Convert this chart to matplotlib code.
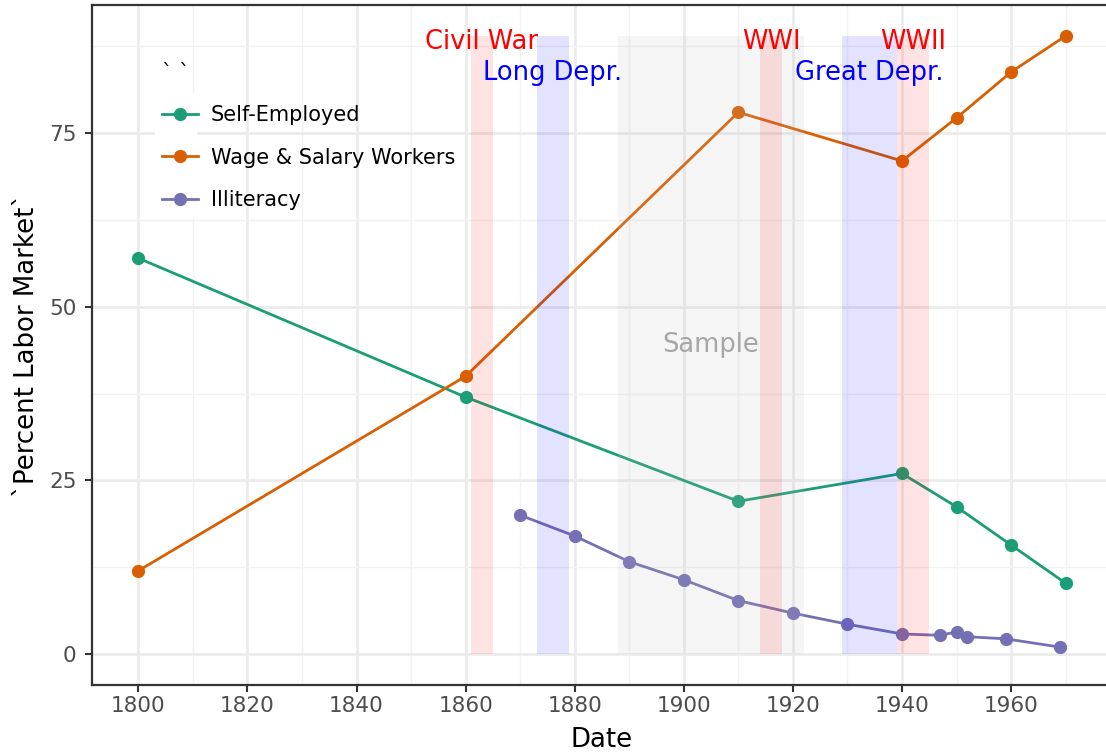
import matplotlib
matplotlib.use("Agg")
import matplotlib.pyplot as plt
from matplotlib.patches import Rectangle

# ---- data ----
se_years = [1800, 1860, 1910, 1940, 1950, 1960, 1970]
self_employed = [57, 37, 22, 26, 21.2, 15.7, 10.2]
wage_years = [1800, 1860, 1910, 1940, 1950, 1960, 1970]
wage_salary = [12, 40, 78, 71, 77.2, 83.8, 89]
ill_years = [1870, 1880, 1890, 1900, 1910, 1920, 1930, 1940, 1947, 1950, 1952, 1959, 1969]
illiteracy = [20.0, 17.0, 13.3, 10.7, 7.7, 5.9, 4.3, 2.9, 2.7, 3.2, 2.5, 2.2, 1.0]

war_names = ["Civil War", "WWI", "WWII"]
war_start = [1861, 1914, 1939]
war_end = [1865, 1918, 1945]
dep_names = ["Long Depr.", "Great Depr."]
dep_start = [1873, 1929]
dep_end = [1879, 1939]
sample_start, sample_end = 1888, 1922
rect_top = 89
war_label_y = 88.1
dep_label_y = 83.6

series_labels = ["Self-Employed", "Wage & Salary Workers", "Illiteracy"]
colors = ["#1B9E77", "#D95F02", "#7570B3"]
x_ticks = [1800, 1820, 1840, 1860, 1880, 1900, 1920, 1940, 1960]
y_ticks = [0, 25, 50, 75]

W, H = 1106, 753
fig = plt.figure(figsize=(W / 100, H / 100), dpi=100)
ax = fig.add_axes([92 / W, (753 - 685) / H, (1112 - 92) / W, 680 / H])

ax.set_xlim(1791.5, 1978.5)
ax.set_ylim(-4.45, 93.45)

# grid
ax.set_axisbelow(True)
ax.set_xticks(x_ticks)
ax.set_xticks([t + 10 for t in x_ticks], minor=True)
ax.set_yticks(y_ticks)
ax.set_yticks([12.5, 37.5, 62.5, 87.5], minor=True)
ax.grid(which="major", color="#EBEBEB", lw=1.9)
ax.grid(which="minor", color="#F2F2F2", lw=1.0)
ax.tick_params(which="minor", length=0)
ax.tick_params(which="major", length=5, width=1.5, color="#333333",
               labelsize=15.5, labelcolor="#4D4D4D")
ax.tick_params(axis="x", pad=3)
ax.tick_params(axis="y", pad=6)

for s in ["left", "bottom", "top"]:
    ax.spines[s].set_color("#333333")
    ax.spines[s].set_linewidth(1.6)
ax.spines["right"].set_visible(False)

# legend key backgrounds (white, covering grid)
ax.add_patch(Rectangle((155 / W, (753 - 218) / H), 42 / W, 125 / H,
                       transform=fig.transFigure, facecolor="white",
                       edgecolor="none", zorder=0.8))

# series
ax.plot(se_years, self_employed, "-o", color=colors[0], lw=2.0, ms=8.5, label=series_labels[0], zorder=3)
ax.plot(wage_years, wage_salary, "-o", color=colors[1], lw=2.0, ms=8.5, label=series_labels[1], zorder=3)
ax.plot(ill_years, illiteracy, "-o", color=colors[2], lw=2.0, ms=8.5, label=series_labels[2], zorder=3)

# shaded periods (drawn on top, transparent)
ax.add_patch(Rectangle((sample_start, 0), sample_end - sample_start, rect_top,
                       facecolor="#BEBEBE", alpha=0.15, edgecolor="none", zorder=4))
for s, e in zip(war_start, war_end):
    ax.add_patch(Rectangle((s, 0), e - s, rect_top, facecolor="red", alpha=0.11,
                           edgecolor="none", zorder=4))
for s, e in zip(dep_start, dep_end):
    ax.add_patch(Rectangle((s, 0), e - s, rect_top, facecolor="blue", alpha=0.11,
                           edgecolor="none", zorder=4))

for n, s, e in zip(war_names, war_start, war_end):
    ax.text((s + e) / 2, war_label_y, n, color="red", fontsize=18.5,
            ha="center", va="center", zorder=5)
for n, s, e in zip(dep_names, dep_start, dep_end):
    ax.text((s + e) / 2, dep_label_y, n, color="blue", fontsize=18.5,
            ha="center", va="center", zorder=5)
ax.text((sample_start + sample_end) / 2, rect_top / 2, "Sample", color="#A6A6A6",
        fontsize=18.5, ha="center", va="center", zorder=5)

ax.set_xlabel("Date", fontsize=18.7, labelpad=8)
ax.set_ylabel("`Percent Labor Market`", fontsize=18.7, labelpad=7)

leg = ax.legend(title="` `", loc="upper left",
                bbox_to_anchor=(145 / W, (753 - 46) / H), bbox_transform=fig.transFigure,
                frameon=False, fontsize=15, title_fontsize=15,
                handlelength=1.75, handletextpad=0.6, labelspacing=1.08,
                alignment="left", borderpad=0.3)

fig.savefig("out.png", dpi=100)
